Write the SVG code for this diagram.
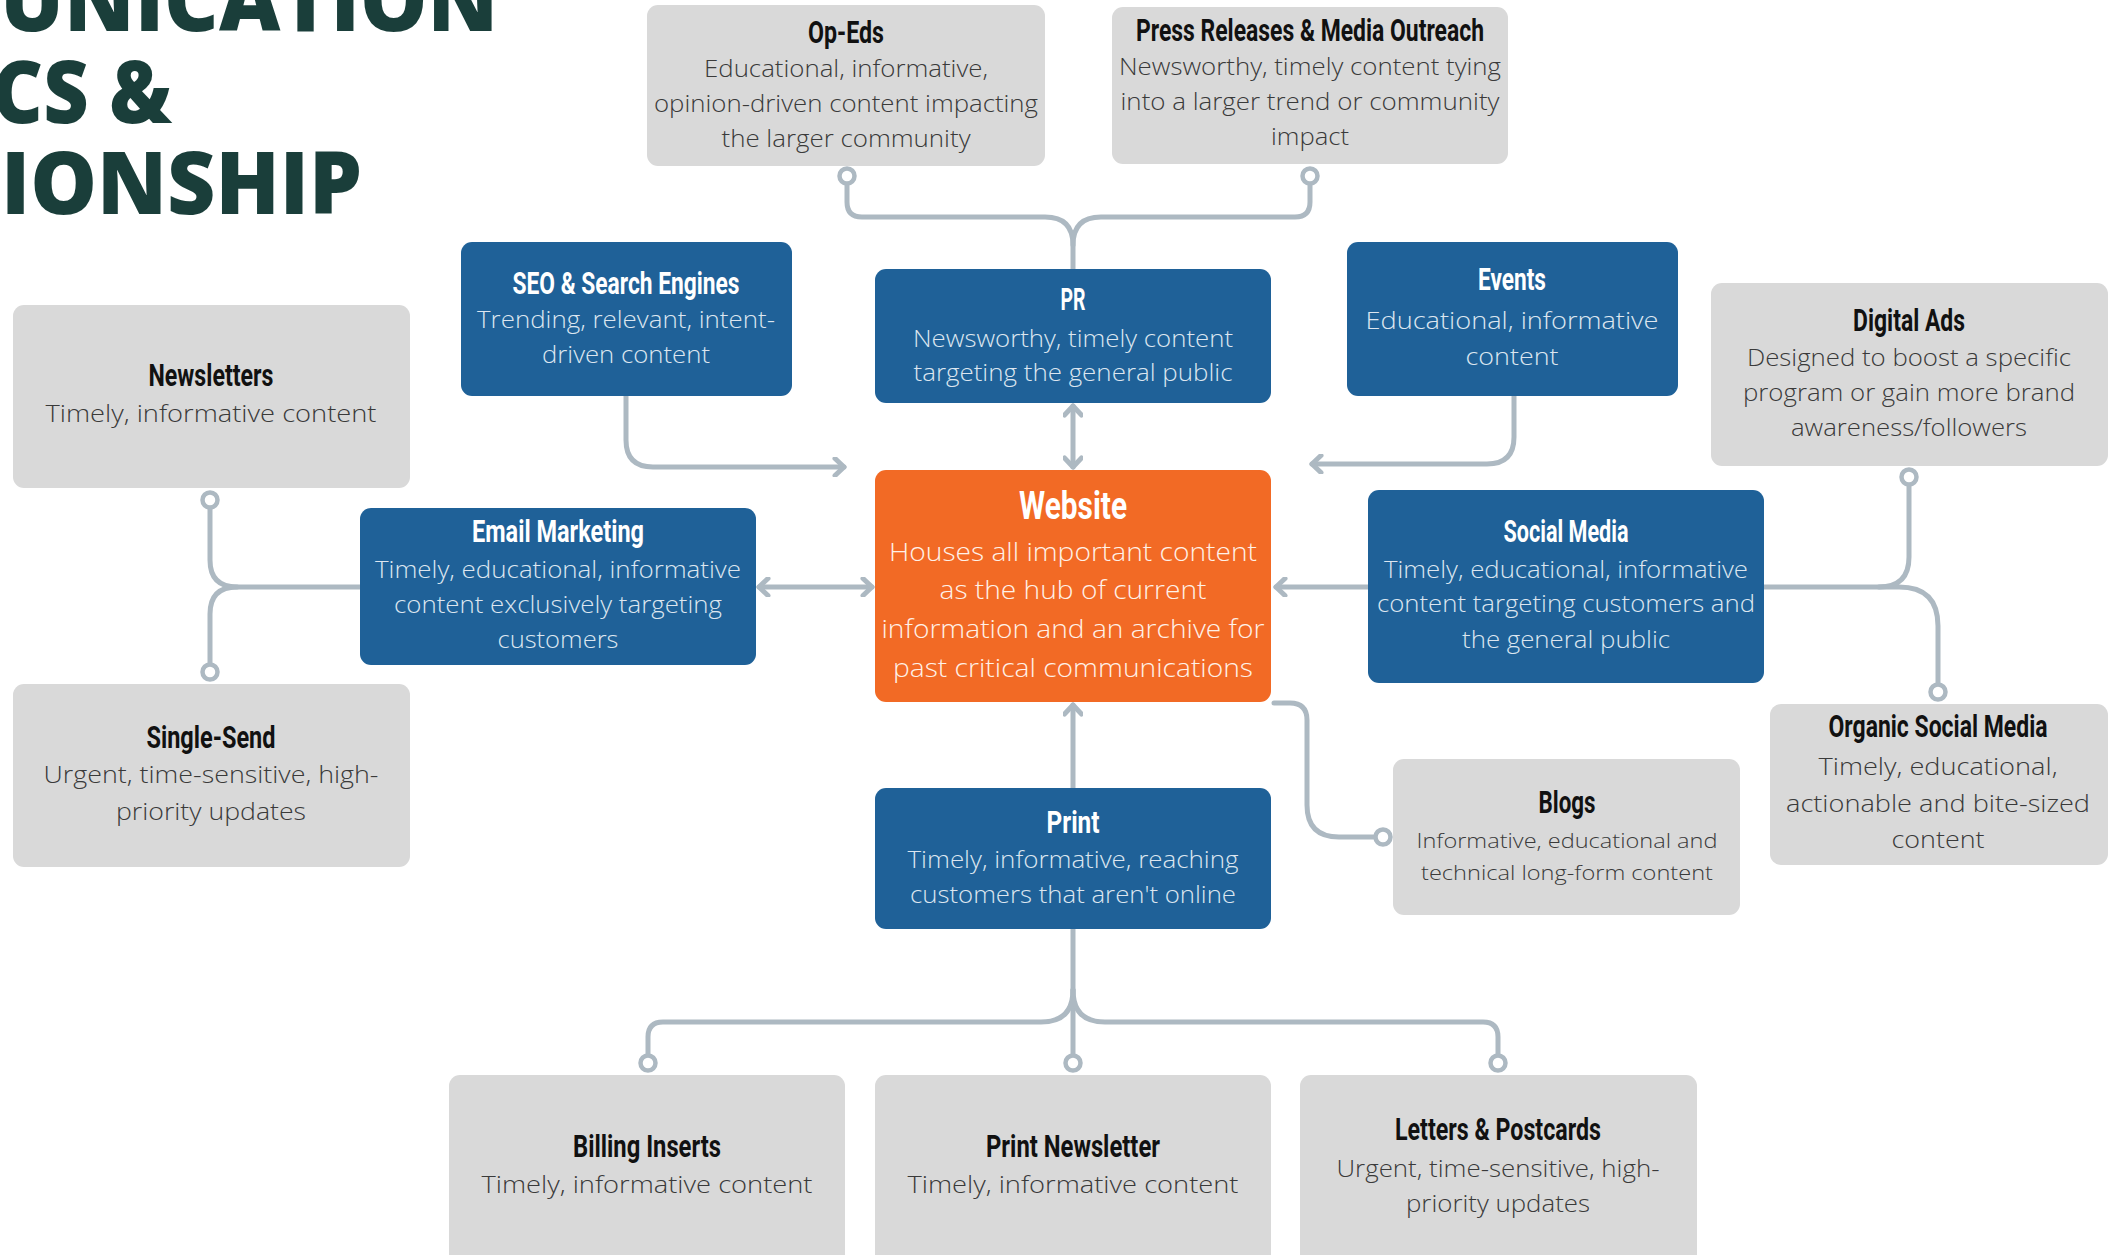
<svg xmlns="http://www.w3.org/2000/svg" width="2118" height="1255" viewBox="0 0 2118 1255">
<style>
.gr{fill:#D9D9D9}
.bl{fill:#1F6198}
.or{fill:#F26A25}
.t{font-family:Roboto,"Liberation Sans",sans-serif;font-weight:700;font-size:31px;text-anchor:middle}
.d{font-family:"Open Sans","Liberation Sans",sans-serif;font-weight:300;font-size:24px;text-anchor:middle}
.tk{fill:#111111}
.tw{fill:#FFFFFF}
.dk{fill:#3A3A3A}
.dw{fill:#DCE6F0}
.do{fill:#FFF1E8}
.hd{font-family:"Open Sans","Liberation Sans",sans-serif;font-weight:800;font-size:86px;fill:#1A3E3A}
.c{fill:none;stroke:#ADB9C2;stroke-width:5;stroke-linecap:round;stroke-linejoin:round}
.dot{fill:#FFFFFF;stroke:#ADB9C2;stroke-width:4.5}
</style>
<defs>
<marker id="ar" viewBox="0 0 20 20" refX="17" refY="10" markerWidth="20" markerHeight="20" markerUnits="userSpaceOnUse" orient="auto-start-reverse">
<path d="M8,1.5 L17,10 L8,18.5" fill="none" stroke="#ADB9C2" stroke-width="5" stroke-linecap="round" stroke-linejoin="round"/>
</marker>
</defs>
<rect width="2118" height="1255" fill="#FFFFFF"/>

<g id="heading">
<text class="hd" x="0" y="31" textLength="498" lengthAdjust="spacingAndGlyphs">UNICATION</text>
<text class="hd" x="-8" y="123" textLength="180" lengthAdjust="spacingAndGlyphs">CS &amp;</text>
<text class="hd" x="1" y="214" textLength="361" lengthAdjust="spacingAndGlyphs">IONSHIP</text>
</g>

<g id="connectors">
<path class="c" d="M1073,269 V245 Q1073,217 1045,217 H862 Q847,217 847,202 V184"/>
<path class="c" d="M1073,245 Q1073,217 1101,217 H1295 Q1310,217 1310,202 V184"/>
<path class="c" d="M210,508 V560 Q210,587 237,587 H360"/>
<path class="c" d="M210,664 V614 Q210,587 237,587"/>
<path class="c" d="M1764,587 H1899 Q1938,587 1938,626 V684"/>
<path class="c" d="M1909,485 V557 Q1909,587 1879,587"/>
<path class="c" d="M1073,929 V1055"/>
<path class="c" d="M1073,990 Q1073,1022 1041,1022 H663 Q648,1022 648,1037 V1055"/>
<path class="c" d="M1073,990 Q1073,1022 1105,1022 H1483 Q1498,1022 1498,1037 V1055"/>
<path class="c" d="M1274,703 H1290 Q1307,703 1307,720 V805 Q1307,837 1339,837 H1375"/>
<path class="c" d="M626,396 V440 Q626,467 653,467 H844" marker-end="url(#ar)"/>
<path class="c" d="M1514,396 V437 Q1514,464 1487,464 H1312" marker-end="url(#ar)"/>
<path class="c" d="M1073,406 V467" marker-start="url(#ar)" marker-end="url(#ar)"/>
<path class="c" d="M759,587 H872" marker-start="url(#ar)" marker-end="url(#ar)"/>
<path class="c" d="M1368,587 H1276" marker-end="url(#ar)"/>
<path class="c" d="M1073,788 V705" marker-end="url(#ar)"/>
<circle class="dot" cx="847" cy="176" r="7.5"/>
<circle class="dot" cx="1310" cy="176" r="7.5"/>
<circle class="dot" cx="210" cy="500" r="7.5"/>
<circle class="dot" cx="210" cy="672" r="7.5"/>
<circle class="dot" cx="1909" cy="477" r="7.5"/>
<circle class="dot" cx="1938" cy="692" r="7.5"/>
<circle class="dot" cx="648" cy="1063" r="7.5"/>
<circle class="dot" cx="1073" cy="1063" r="7.5"/>
<circle class="dot" cx="1498" cy="1063" r="7.5"/>
<circle class="dot" cx="1383" cy="837" r="7.5"/>
</g>

<g id="op-eds">
<rect class="gr" x="647" y="5" width="398" height="161" rx="11"/>
<text class="t tk" x="846" y="43" textLength="76" lengthAdjust="spacingAndGlyphs">Op-Eds</text>
<text class="d dk" x="846" y="77" textLength="284" lengthAdjust="spacingAndGlyphs">Educational, informative,</text>
<text class="d dk" x="846" y="112" textLength="384" lengthAdjust="spacingAndGlyphs">opinion-driven content impacting</text>
<text class="d dk" x="846" y="147" textLength="249" lengthAdjust="spacingAndGlyphs">the larger community</text>
</g>

<g id="press-releases">
<rect class="gr" x="1112" y="7" width="396" height="157" rx="11"/>
<text class="t tk" x="1310" y="41" textLength="348" lengthAdjust="spacingAndGlyphs">Press Releases &amp; Media Outreach</text>
<text class="d dk" x="1310" y="75" textLength="382" lengthAdjust="spacingAndGlyphs">Newsworthy, timely content tying</text>
<text class="d dk" x="1310" y="110" textLength="379" lengthAdjust="spacingAndGlyphs">into a larger trend or community</text>
<text class="d dk" x="1310" y="145" textLength="78" lengthAdjust="spacingAndGlyphs">impact</text>
</g>

<g id="seo">
<rect class="bl" x="461" y="242" width="331" height="154" rx="11"/>
<text class="t tw" x="626" y="294" textLength="227" lengthAdjust="spacingAndGlyphs">SEO &amp; Search Engines</text>
<text class="d dw" x="626" y="328" textLength="298" lengthAdjust="spacingAndGlyphs">Trending, relevant, intent-</text>
<text class="d dw" x="626" y="363" textLength="168" lengthAdjust="spacingAndGlyphs">driven content</text>
</g>

<g id="pr">
<rect class="bl" x="875" y="269" width="396" height="134" rx="11"/>
<text class="t tw" x="1073" y="310" textLength="25" lengthAdjust="spacingAndGlyphs">PR</text>
<text class="d dw" x="1073" y="347" textLength="320" lengthAdjust="spacingAndGlyphs">Newsworthy, timely content</text>
<text class="d dw" x="1073" y="381" textLength="319" lengthAdjust="spacingAndGlyphs">targeting the general public</text>
</g>

<g id="events">
<rect class="bl" x="1347" y="242" width="331" height="154" rx="11"/>
<text class="t tw" x="1512" y="290" textLength="68" lengthAdjust="spacingAndGlyphs">Events</text>
<text class="d dw" x="1512" y="329" textLength="293" lengthAdjust="spacingAndGlyphs">Educational, informative</text>
<text class="d dw" x="1512" y="365" textLength="93" lengthAdjust="spacingAndGlyphs">content</text>
</g>

<g id="digital-ads">
<rect class="gr" x="1711" y="283" width="397" height="183" rx="11"/>
<text class="t tk" x="1909" y="331" textLength="112" lengthAdjust="spacingAndGlyphs">Digital Ads</text>
<text class="d dk" x="1909" y="366" textLength="324" lengthAdjust="spacingAndGlyphs">Designed to boost a specific</text>
<text class="d dk" x="1909" y="401" textLength="332" lengthAdjust="spacingAndGlyphs">program or gain more brand</text>
<text class="d dk" x="1909" y="436" textLength="236" lengthAdjust="spacingAndGlyphs">awareness/followers</text>
</g>

<g id="newsletters">
<rect class="gr" x="13" y="305" width="397" height="183" rx="11"/>
<text class="t tk" x="211" y="386" textLength="125" lengthAdjust="spacingAndGlyphs">Newsletters</text>
<text class="d dk" x="211" y="422" textLength="331" lengthAdjust="spacingAndGlyphs">Timely, informative content</text>
</g>

<g id="email-marketing">
<rect class="bl" x="360" y="508" width="396" height="157" rx="11"/>
<text class="t tw" x="558" y="542" textLength="172" lengthAdjust="spacingAndGlyphs">Email Marketing</text>
<text class="d dw" x="558" y="578" textLength="366" lengthAdjust="spacingAndGlyphs">Timely, educational, informative</text>
<text class="d dw" x="558" y="613" textLength="328" lengthAdjust="spacingAndGlyphs">content exclusively targeting</text>
<text class="d dw" x="558" y="648" textLength="121" lengthAdjust="spacingAndGlyphs">customers</text>
</g>

<g id="website">
<rect class="or" x="875" y="470" width="396" height="232" rx="11"/>
<text class="t tw" x="1073" y="519" style="font-size:38px" textLength="108" lengthAdjust="spacingAndGlyphs">Website</text>
<text class="d do" x="1073" y="561" style="font-size:26px" textLength="368" lengthAdjust="spacingAndGlyphs">Houses all important content</text>
<text class="d do" x="1073" y="599" style="font-size:26px" textLength="267" lengthAdjust="spacingAndGlyphs">as the hub of current</text>
<text class="d do" x="1073" y="638" style="font-size:26px" textLength="383" lengthAdjust="spacingAndGlyphs">information and an archive for</text>
<text class="d do" x="1073" y="677" style="font-size:26px" textLength="360" lengthAdjust="spacingAndGlyphs">past critical communications</text>
</g>

<g id="social-media">
<rect class="bl" x="1368" y="490" width="396" height="193" rx="11"/>
<text class="t tw" x="1566" y="542" textLength="125" lengthAdjust="spacingAndGlyphs">Social Media</text>
<text class="d dw" x="1566" y="578" textLength="364" lengthAdjust="spacingAndGlyphs">Timely, educational, informative</text>
<text class="d dw" x="1566" y="612" textLength="378" lengthAdjust="spacingAndGlyphs">content targeting customers and</text>
<text class="d dw" x="1566" y="648" textLength="208" lengthAdjust="spacingAndGlyphs">the general public</text>
</g>

<g id="single-send">
<rect class="gr" x="13" y="684" width="397" height="183" rx="11"/>
<text class="t tk" x="211" y="748" textLength="129" lengthAdjust="spacingAndGlyphs">Single-Send</text>
<text class="d dk" x="211" y="783" textLength="335" lengthAdjust="spacingAndGlyphs">Urgent, time-sensitive, high-</text>
<text class="d dk" x="211" y="820" textLength="190" lengthAdjust="spacingAndGlyphs">priority updates</text>
</g>

<g id="print">
<rect class="bl" x="875" y="788" width="396" height="141" rx="11"/>
<text class="t tw" x="1073" y="833" textLength="53" lengthAdjust="spacingAndGlyphs">Print</text>
<text class="d dw" x="1073" y="868" textLength="331" lengthAdjust="spacingAndGlyphs">Timely, informative, reaching</text>
<text class="d dw" x="1073" y="903" textLength="326" lengthAdjust="spacingAndGlyphs">customers that aren't online</text>
</g>

<g id="blogs">
<rect class="gr" x="1393" y="759" width="347" height="156" rx="11"/>
<text class="t tk" x="1567" y="813" textLength="57" lengthAdjust="spacingAndGlyphs">Blogs</text>
<text class="d dk" x="1567" y="848" style="font-size:21px" textLength="301" lengthAdjust="spacingAndGlyphs">Informative, educational and</text>
<text class="d dk" x="1567" y="880" style="font-size:21px" textLength="292" lengthAdjust="spacingAndGlyphs">technical long-form content</text>
</g>

<g id="organic-social-media">
<rect class="gr" x="1770" y="704" width="338" height="161" rx="11"/>
<text class="t tk" x="1938" y="737" textLength="219" lengthAdjust="spacingAndGlyphs">Organic Social Media</text>
<text class="d dk" x="1938" y="775" textLength="239" lengthAdjust="spacingAndGlyphs">Timely, educational,</text>
<text class="d dk" x="1938" y="812" textLength="304" lengthAdjust="spacingAndGlyphs">actionable and bite-sized</text>
<text class="d dk" x="1938" y="848" textLength="93" lengthAdjust="spacingAndGlyphs">content</text>
</g>

<g id="billing-inserts">
<rect class="gr" x="449" y="1075" width="396" height="200" rx="11"/>
<text class="t tk" x="647" y="1157" textLength="148" lengthAdjust="spacingAndGlyphs">Billing Inserts</text>
<text class="d dk" x="647" y="1193" textLength="331" lengthAdjust="spacingAndGlyphs">Timely, informative content</text>
</g>

<g id="print-newsletter">
<rect class="gr" x="875" y="1075" width="396" height="200" rx="11"/>
<text class="t tk" x="1073" y="1157" textLength="174" lengthAdjust="spacingAndGlyphs">Print Newsletter</text>
<text class="d dk" x="1073" y="1193" textLength="331" lengthAdjust="spacingAndGlyphs">Timely, informative content</text>
</g>

<g id="letters-postcards">
<rect class="gr" x="1300" y="1075" width="397" height="200" rx="11"/>
<text class="t tk" x="1498" y="1140" textLength="206" lengthAdjust="spacingAndGlyphs">Letters &amp; Postcards</text>
<text class="d dk" x="1498" y="1177" textLength="323" lengthAdjust="spacingAndGlyphs">Urgent, time-sensitive, high-</text>
<text class="d dk" x="1498" y="1212" textLength="184" lengthAdjust="spacingAndGlyphs">priority updates</text>
</g>
</svg>
